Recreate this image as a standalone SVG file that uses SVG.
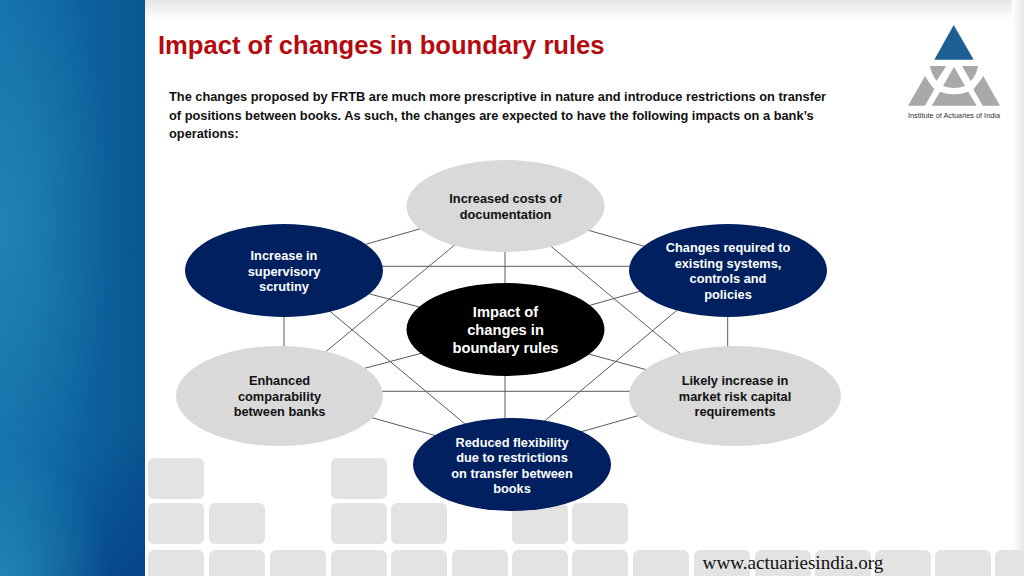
<svg xmlns="http://www.w3.org/2000/svg" width="1024" height="576" viewBox="0 0 1024 576">
<style>
text{font-family:"Liberation Sans",Arial,sans-serif;font-weight:bold;text-anchor:middle}
.t{fill:#e3e3e3}
.d{font-size:12.8px;fill:#111}
.l{font-size:12.8px;fill:#fff}
.c{font-size:14.7px;fill:#fff}
.b{font-size:12.8px;fill:#111;text-anchor:start}
.g{fill:#d9d9d9}.n{fill:#002060}
.lg{fill:#a9a9a9}
#connectors line{stroke:#5a5a5a;stroke-width:1}
</style>
<defs>
<linearGradient id="bl" x1="0" y1="0" x2="1" y2="0"><stop offset="0" stop-color="#1270aa"/><stop offset="1" stop-color="#0a5793"/></linearGradient>
<radialGradient id="gl" gradientUnits="userSpaceOnUse" cx="0" cy="0" r="1" gradientTransform="translate(5 225) scale(110 300)"><stop offset="0" stop-color="#2184b5" stop-opacity=".9"/><stop offset="1" stop-color="#2184b5" stop-opacity="0"/></radialGradient>
<radialGradient id="gb" gradientUnits="userSpaceOnUse" cx="0" cy="0" r="1" gradientTransform="translate(0 576) scale(110 130)"><stop offset="0" stop-color="#2184b5"/><stop offset="1" stop-color="#2184b5" stop-opacity="0"/></radialGradient>
<linearGradient id="br" gradientUnits="userSpaceOnUse" x1="70" y1="470" x2="145" y2="560"><stop offset="0" stop-color="#06478a" stop-opacity="0"/><stop offset="1" stop-color="#06478a"/></linearGradient>
<linearGradient id="tp" x1="0" y1="0" x2="0" y2="1"><stop offset="0" stop-color="#e6e6e6"/><stop offset="1" stop-color="#fff"/></linearGradient>
<linearGradient id="rt" x1="0" y1="0" x2="1" y2="0"><stop offset="0" stop-color="#fff"/><stop offset="1" stop-color="#e8e8e8"/></linearGradient>
<g id="tile"><rect class="t" width="56" height="41" rx="6"/></g>
</defs>
<rect width="1024" height="576" fill="#fff"/>
<rect x="145" width="879" height="20" fill="url(#tp)"/>
<rect x="1012" width="12" height="576" fill="url(#rt)"/>
<g id="sidebar">
<rect width="145" height="576" fill="url(#bl)"/>
<rect width="145" height="576" fill="url(#br)"/>
<rect width="145" height="576" fill="url(#gl)"/>
<rect width="145" height="576" fill="url(#gb)"/>
</g>
<g id="tiles">
<use href="#tile" x="148" y="458"/><use href="#tile" x="331" y="458"/>
<use href="#tile" x="148" y="503"/><use href="#tile" x="209" y="503"/><use href="#tile" x="331" y="503"/><use href="#tile" x="391" y="503"/><use href="#tile" x="512" y="503"/><use href="#tile" x="572" y="503"/>
<use href="#tile" x="148" y="550"/><use href="#tile" x="209" y="550"/><use href="#tile" x="270" y="550"/><use href="#tile" x="331" y="550"/><use href="#tile" x="391" y="550"/><use href="#tile" x="452" y="550"/><use href="#tile" x="512" y="550"/><use href="#tile" x="572" y="550"/><use href="#tile" x="633" y="550"/><use href="#tile" x="694" y="550"/><use href="#tile" x="755" y="550"/><use href="#tile" x="815" y="550"/><use href="#tile" x="875" y="550"/><use href="#tile" x="935" y="550"/><use href="#tile" x="995" y="550"/>
</g>
<text x="158" y="54" style="font-size:25.6px;fill:#b50a0f;text-anchor:start">Impact of changes in boundary rules</text>
<g id="intro">
<text class="b" x="169" y="101">The changes proposed by FRTB are much more prescriptive in nature and introduce restrictions on transfer</text>
<text class="b" x="169" y="120">of positions between books. As such, the changes are expected to have the following impacts on a bank’s</text>
<text class="b" x="169" y="138">operations:</text>
</g>
<g id="logo">
<polygon points="953.7,25 973.7,59.7 934.3,59.7" fill="#1d5f94"/>
<path class="lg" d="M930,66H946.3L936.7,80.7Q931.7,75 930,66Z"/>
<path class="lg" d="M962,66H978Q976.700,75 970.700,81Z"/>
<path class="lg" d="M954,66.700L965,86Q954,90 943,86Z"/>
<path class="lg" d="M925,76L908,105.700H925L934.300,89.300Q929,83 925,76Z"/>
<path class="lg" d="M983.300,76L1000,105.700H982.700L973.300,89.300Q979,83 983.300,76Z"/>
<path class="lg" d="M931.700,105.700L940,91.700Q954,97 968.300,91.700L976.700,105.700Z"/>
<text x="954" y="118" textLength="92" lengthAdjust="spacingAndGlyphs" style="font-size:7.500px;fill:#333;font-weight:normal">Institute of Actuaries of India</text>
</g>
<g id="connectors">
<line x1="362" y1="245.400" x2="423" y2="228"/>
<line x1="585" y1="229.300" x2="648" y2="247.300"/>
<line x1="505" y1="245" x2="505" y2="290"/>
<line x1="375" y1="266.300" x2="635" y2="266.300"/>
<line x1="365" y1="292.700" x2="423" y2="308"/>
<line x1="586" y1="306.400" x2="643" y2="290.400"/>
<line x1="284" y1="310" x2="284" y2="352"/>
<line x1="727.700" y1="310" x2="727.700" y2="352"/>
<line x1="458" y1="242.200" x2="323" y2="354"/>
<line x1="547" y1="243" x2="684" y2="356.800"/>
<line x1="326" y1="308" x2="468" y2="426.500"/>
<line x1="682" y1="306" x2="541" y2="424"/>
<line x1="362" y1="369" x2="426" y2="352"/>
<line x1="586" y1="353.300" x2="650" y2="370.700"/>
<line x1="375" y1="391.300" x2="635" y2="391.300"/>
<line x1="505" y1="370" x2="505" y2="425"/>
<line x1="368" y1="416.500" x2="442" y2="437.500"/>
<line x1="642" y1="414.500" x2="576" y2="433.300"/>
</g>
<g id="n-top"><ellipse class="g" cx="505.500" cy="206" rx="99" ry="46"/>
<text class="d" x="505.500" y="203">Increased costs of</text><text class="d" x="505.500" y="218.500">documentation</text></g>
<g id="n-left"><ellipse class="n" cx="284" cy="270.500" rx="99" ry="46.500"/>
<text class="l" x="284" y="260">Increase in</text><text class="l" x="284" y="275.500">supervisory</text><text class="l" x="284" y="291">scrutiny</text></g>
<g id="n-right"><ellipse class="n" cx="728" cy="270.500" rx="99" ry="46.500"/>
<text class="l" x="728" y="252">Changes required to</text><text class="l" x="728" y="267.500">existing systems,</text><text class="l" x="728" y="283">controls and</text><text class="l" x="728" y="298.500">policies</text></g>
<g id="n-center"><ellipse cx="505.500" cy="329.500" rx="99" ry="46.500" fill="#000"/>
<text class="c" x="505.500" y="317">Impact of</text><text class="c" x="505.500" y="335">changes in</text><text class="c" x="505.500" y="353">boundary rules</text></g>
<g id="n-leftb"><ellipse class="g" cx="279.500" cy="396" rx="103.500" ry="50"/>
<text class="d" x="279.500" y="385">Enhanced</text><text class="d" x="279.500" y="400.500">comparability</text><text class="d" x="279.500" y="416">between banks</text></g>
<g id="n-rightb"><ellipse class="g" cx="735" cy="396" rx="106" ry="50"/>
<text class="d" x="735" y="385">Likely increase in</text><text class="d" x="735" y="400.500">market risk capital</text><text class="d" x="735" y="416">requirements</text></g>
<g id="n-bottom"><ellipse class="n" cx="512" cy="464.500" rx="99" ry="46.500"/>
<text class="l" x="512" y="446.500">Reduced flexibility</text><text class="l" x="512" y="462">due to restrictions</text><text class="l" x="512" y="477.500">on transfer between</text><text class="l" x="512" y="492.500">books</text></g>
<text x="793" y="569" style="font-family:'Liberation Serif',serif;font-weight:normal;font-size:19.100px;fill:#111">www.actuariesindia.org</text>
</svg>
